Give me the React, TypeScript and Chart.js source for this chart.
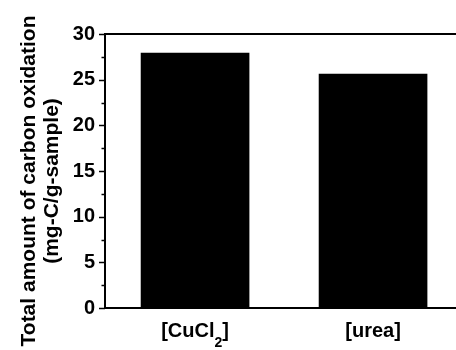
import React, { useEffect, useRef } from "react";
import { Chart, registerables } from "chart.js";

Chart.register(...registerables);

// "_" marks a subscript segment
const categories = [["[CuCl", "_2", "]"], ["[urea]"]];
const categoryPositions = [1, 2];
const values = [27.9, 25.6];
const yTicks = [0, 5, 10, 15, 20, 25, 30];
const yMinorTicks = [2.5, 7.5, 12.5, 17.5, 22.5, 27.5];
const yTitle = ["Total amount of carbon oxidation", "(mg-C/g-sample)"];

const FONT = "'Liberation Sans', Arial, sans-serif";

const framePlugin = {
  id: "frame",
  afterDraw(chart: any) {
    const { ctx, chartArea } = chart;
    const y = chart.scales.y;
    const x = chart.scales.x;
    ctx.save();
    ctx.strokeStyle = "#000";
    ctx.lineWidth = 2;
    ctx.beginPath();
    ctx.moveTo(chartArea.left - 1, chartArea.top);
    ctx.lineTo(chartArea.right, chartArea.top);
    ctx.stroke();
    ctx.lineWidth = 1.5;
    for (const v of yTicks) {
      const p = Math.round(y.getPixelForValue(v)) + 0.5;
      ctx.beginPath();
      ctx.moveTo(chartArea.left - 6, p);
      ctx.lineTo(chartArea.left, p);
      ctx.stroke();
    }
    for (const v of yMinorTicks) {
      const p = Math.round(y.getPixelForValue(v)) + 0.5;
      ctx.beginPath();
      ctx.moveTo(chartArea.left - 3.5, p);
      ctx.lineTo(chartArea.left, p);
      ctx.stroke();
    }
    ctx.fillStyle = "#000";
    // x category labels with subscripts
    const mainFont = `bold 20px ${FONT}`;
    const subFont = `bold 14px ${FONT}`;
    const baseY = chartArea.bottom + 29;
    ctx.textBaseline = "alphabetic";
    ctx.textAlign = "left";
    categories.forEach((parts, i) => {
      const widths = parts.map((p) => {
        const sub = p.startsWith("_");
        ctx.font = sub ? subFont : mainFont;
        return ctx.measureText(sub ? p.slice(1) : p).width;
      });
      const total = widths.reduce((a, b) => a + b, 0);
      let cx = x.getPixelForValue(categoryPositions[i]) - total / 2;
      parts.forEach((p, j) => {
        const sub = p.startsWith("_");
        ctx.font = sub ? subFont : mainFont;
        ctx.fillText(sub ? p.slice(1) : p, cx, sub ? baseY + 10 : baseY);
        cx += widths[j];
      });
    });
    // y-axis title (two lines, rotated)
    const cy = (chartArea.top + chartArea.bottom) / 2 + 10;
    ctx.font = `bold 21px ${FONT}`;
    ctx.textAlign = "center";
    ctx.textBaseline = "middle";
    const xs = [29, 52.5];
    yTitle.forEach((line, i) => {
      ctx.save();
      ctx.translate(xs[i], cy);
      ctx.rotate(-Math.PI / 2);
      ctx.fillText(line, 0, 0);
      ctx.restore();
    });
    ctx.restore();
  },
};

export default function App() {
  const ref = useRef<HTMLCanvasElement | null>(null);
  useEffect(() => {
    document.body.style.margin = "0";
    const chart = new Chart(ref.current as HTMLCanvasElement, {
      type: "bar",
      data: {
        datasets: [
          {
            data: categoryPositions.map((x, i) => ({ x, y: values[i] })),
            backgroundColor: "#000",
            borderWidth: 0,
            barThickness: 108,
          },
        ],
      },
      options: {
        animation: false,
        responsive: false,
        maintainAspectRatio: false,
        layout: { padding: { top: 34, right: 0, bottom: 0, left: 0 } },
        plugins: { legend: { display: false }, tooltip: { enabled: false } },
        scales: {
          x: {
            type: "linear",
            offset: false,
            min: 0.494,
            max: 2.466,
            afterBuildTicks: (s: any) => {
              s.ticks = categoryPositions.map((v) => ({ value: v }));
            },
            afterFit: (s: any) => {
              s.height = 42;
            },
            ticks: { display: false },
            grid: { drawOnChartArea: false, drawTicks: false },
            border: { display: true, color: "#000", width: 2 },
          },
          y: {
            min: 0,
            max: 30,
            afterBuildTicks: (s: any) => {
              s.ticks = yTicks.map((v) => ({ value: v }));
            },
            afterFit: (s: any) => {
              s.width = 105;
            },
            ticks: {
              color: "#000",
              font: { family: FONT, size: 20, weight: "bold" },
              padding: 10,
            },
            grid: { drawOnChartArea: false, drawTicks: false },
            border: { display: true, color: "#000", width: 2 },
          },
        },
      },
      plugins: [framePlugin],
    });
    return () => chart.destroy();
  }, []);
  return <canvas ref={ref} width={456} height={350} style={{ display: "block" }} />;
}
